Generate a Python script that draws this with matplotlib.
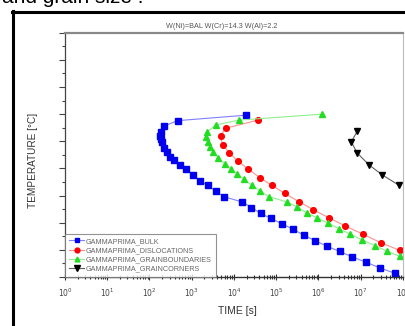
import math
import matplotlib
matplotlib.use("Agg")
import matplotlib.pyplot as plt
from matplotlib.lines import Line2D
from matplotlib.ticker import LogLocator, MultipleLocator, NullFormatter, FuncFormatter

plt.rcParams['font.family'] = ['Liberation Sans', 'DejaVu Sans']

# Precipitation start curves: log10(time [s]) and temperature [°C]
bulk_logt = [4.279, 2.664, 2.340, 2.262, 2.246, 2.262, 2.293, 2.340, 2.404, 2.482,
             2.584, 2.719, 2.861, 3.019, 3.191, 3.374, 3.563, 3.759, 4.201, 4.414,
             4.634, 4.870, 5.137, 5.397, 5.650, 5.917, 6.194, 6.501, 6.801, 7.132,
             7.447, 7.801]
bulk_temp = [898, 888, 878, 867, 860, 855, 848, 838, 831, 821,
             815, 807, 799, 788, 777, 769, 758, 748, 738, 728,
             717, 708, 698, 688, 677, 667, 657, 647, 637, 627,
             617, 607]

disl_logt = [4.570, 3.799, 3.681, 3.728, 3.884, 4.083, 4.333, 4.610, 4.894, 5.201,
             5.532, 5.875, 6.246, 6.636, 7.045, 7.478, 7.927]
disl_temp = [889, 874, 860, 844, 829, 814, 799, 783, 769, 754,
             739, 724, 709, 694, 679, 663, 649]

gb_logt = [6.092, 4.121, 3.563, 3.364, 3.333, 3.388, 3.428, 3.506, 3.624, 3.783,
           3.924, 4.073, 4.232, 4.421, 4.610, 4.823, 5.265, 5.496, 5.721, 5.969,
           6.234, 6.485, 6.754, 7.038, 7.329, 7.619, 7.920]
gb_temp = [900, 889, 880, 867, 858, 849, 840, 831, 820, 808,
           799, 790, 780, 769, 759, 748, 738, 729, 718, 709,
           699, 689, 679, 668, 658, 648, 638]

gc_logt = [6.920, 6.778, 6.910, 7.187, 7.511, 7.903]
gc_temp = [869, 849, 829, 807, 788, 769]

series_names = ["GAMMAPRIMA_BULK", "GAMMAPRIMA_DISLOCATIONS",
                "GAMMAPRIMA_GRAINBOUNDARIES", "GAMMAPRIMA_GRAINCORNERS"]
title_text = "W(Ni)=BAL W(Cr)=14.3 W(Al)=2.2"

W, H = 406, 326
fig = plt.figure(figsize=(W / 100, H / 100), dpi=100)


def fx(px):
    return px / W


def fy(py):
    return 1 - py / H


# surrounding document text and frame
fig.text(fx(2), fy(3), "and grain size :", fontsize=15, color="black",
         ha="left", va="baseline")
fig.add_artist(Line2D([fx(13.5), fx(13.5)], [fy(11), fy(330)], color="black", lw=2.2))
fig.add_artist(Line2D([fx(12.5), fx(410)], [fy(12), fy(12)], color="black", lw=2.2))

ax = fig.add_axes([fx(65), fy(277), fx(403) - fx(65), fy(32.7) - fy(277)])

ax.plot([10 ** v for v in bulk_logt], bulk_temp, "-s", color="#8080ff",
        mfc="#0000ee", mec="#0000ee", ms=3.7, lw=0.8, label=series_names[0])
ax.plot([10 ** v for v in disl_logt], disl_temp, "-o", color="#ff9090",
        mfc="#ff0000", mec="#ff0000", ms=4.1, lw=0.8, label=series_names[1])
ax.plot([10 ** v for v in gb_logt], gb_temp, "-^", color="#90ee90",
        mfc="#22dd22", mec="#22dd22", ms=4.1, lw=0.8, label=series_names[2])
ax.plot([10 ** v for v in gc_logt], gc_temp, "-v", color="#606060",
        mfc="black", mec="black", ms=4.6, lw=0.8, label=series_names[3])

ax.set_xscale("log")
ax.set_xlim(1, 1e8)
ax.set_ylim(600, 1050)
ax.xaxis.set_major_locator(LogLocator(base=10, numticks=20))
ax.xaxis.set_minor_locator(LogLocator(base=10, subs=range(2, 10), numticks=100))
ax.xaxis.set_minor_formatter(NullFormatter())
ax.xaxis.set_major_formatter(FuncFormatter(lambda v, p: r"$10^{%d}$" % round(math.log10(v))))
ax.yaxis.set_major_locator(MultipleLocator(50))
ax.yaxis.set_minor_locator(MultipleLocator(25))
ax.tick_params(axis="y", which="both", labelleft=False, direction="out",
               color="#444444", width=0.8)
ax.tick_params(axis="y", which="major", length=4)
ax.tick_params(axis="y", which="minor", length=2)
ax.tick_params(axis="x", which="both", direction="inout", color="#333333",
               width=0.8, labelsize=5.5, labelcolor="#444444", pad=5)
ax.tick_params(axis="x", which="major", length=4)
ax.tick_params(axis="x", which="minor", length=2.5)

ax.spines["top"].set_color("#888888")
ax.spines["top"].set_linewidth(1.6)
ax.spines["right"].set_color("#bbbbbb")
ax.spines["right"].set_linewidth(0.8)
ax.spines["left"].set_color("#444444")
ax.spines["left"].set_linewidth(0.9)
ax.spines["bottom"].set_color("#333333")
ax.spines["bottom"].set_linewidth(1.0)

fig.text(fx(222), fy(26), title_text, fontsize=5.2, color="#555555",
         ha="center", va="center")
fig.text(fx(237), fy(311), "TIME [s]", fontsize=7.5, color="#333333",
         ha="center", va="center")
fig.text(fx(33), fy(160), "TEMPERATURE [°C]", fontsize=7.2, color="#333333",
         ha="center", va="center", rotation=90)

leg = ax.legend(loc="lower left", bbox_to_anchor=(0, 0), fontsize=5.2,
                frameon=True, fancybox=False, borderpad=0.6, labelspacing=0.3,
                handlelength=2.0, handletextpad=0.3, borderaxespad=0.0,
                markerscale=0.85)
leg.get_frame().set_edgecolor("#777777")
leg.get_frame().set_linewidth(0.8)
for t in leg.get_texts():
    t.set_color("#666666")

fig.savefig("out.png", dpi=100)
